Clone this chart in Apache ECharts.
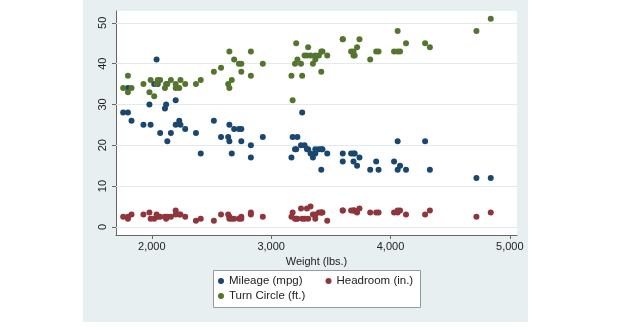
<!DOCTYPE html>
<html><head><meta charset="utf-8">
<script src="https://cdn.jsdelivr.net/npm/echarts@6/dist/echarts.min.js"></script>
<style>html,body{margin:0;padding:0;background:#fff}#c{width:620px;height:330px}</style>
</head><body><div id="c"></div>
<script>
// Weight (lbs.) per car
const weight = [2930,3350,2640,3250,4080,3670,2230,3280,3880,3400,4330,3900,4290,2110,3690,3180,3220,2750,3430,2120,3600,3600,3740,1800,2650,4840,4720,3830,2580,4060,3720,3370,4130,2830,4060,3310,3300,3690,3370,2730,4030,3260,1800,2200,2520,3330,3700,3470,3210,3200,3420,2690,2830,2070,2650,2370,2020,2280,2750,2130,2240,1760,1980,3420,1830,2050,2410,2200,2670,2160,2040,1930,1990,3170];
// Mileage (mpg)
const mpg = [22,17,22,20,15,18,26,20,16,19,14,14,21,29,16,22,22,24,19,30,18,16,17,28,21,12,12,14,22,14,15,18,14,20,21,19,19,18,19,24,16,28,34,25,26,18,18,18,19,19,19,24,17,23,25,23,35,24,21,21,25,28,30,14,26,35,18,31,18,23,41,25,25,17];
// Headroom (in.)
const headroom = [2.5,3.0,3.0,4.5,4.0,4.0,3.0,2.0,3.5,3.5,4.0,3.5,3.0,2.5,4.0,3.5,2.0,2.0,3.5,2.0,4.0,4.0,4.5,2.0,2.0,3.5,2.5,3.5,3.0,3.5,3.5,3.0,3.0,3.5,4.0,2.0,4.5,4.0,2.0,2.0,3.5,2.0,2.5,4.0,1.5,5.0,4.0,1.5,2.0,2.0,3.5,2.0,3.0,2.5,2.5,1.5,2.0,2.5,2.5,2.5,3.0,2.5,3.5,3.5,3.0,2.5,2.0,3.0,2.0,2.5,3.0,3.0,2.0,2.5];
// Turn Circle (ft.)
const turn = [40,40,35,40,43,43,34,42,43,42,44,43,45,34,43,31,41,40,43,35,46,46,46,33,43,51,48,41,39,43,44,41,45,43,48,44,42,42,42,40,43,37,37,34,38,42,42,42,45,40,43,41,37,36,34,35,32,35,38,35,36,34,33,38,34,36,36,35,36,36,35,35,36,37];

const seriesNames = ['Mileage (mpg)', 'Headroom (in.)', 'Turn Circle (ft.)'];
const xTicks = [2000, 3000, 4000, 5000];
const yTicks = [0, 10, 20, 30, 40, 50];

const FONT = '"Liberation Sans", Arial, sans-serif';
const colors = ['#1a476f', '#90353b', '#55752f'];
const pts = v => weight.map((w, i) => [w, v[i]]);
const fmt = v => String(v).replace(/\B(?=(\d{3})+(?!\d))/g, ',');

const chart = echarts.init(document.getElementById('c'), null, {renderer: 'canvas'});
const legendCommon = {
  orient: 'horizontal', padding: 0, itemGap: 23, itemWidth: 6, itemHeight: 6, icon: 'circle',
  textStyle: {fontSize: 11.5, color: '#222', fontFamily: FONT}
};
const scatter = (name, data, color) => ({
  name, type: 'scatter', data, symbol: 'circle', symbolSize: 6, z: 10,
  itemStyle: {color, opacity: 1}
});
chart.setOption({
  backgroundColor: '#fff',
  animation: false,
  color: colors,
  graphic: {elements: [
    {type: 'rect', shape: {x: 83, y: 0, width: 445, height: 322}, style: {fill: '#e8eff1'}, z: -100, silent: true},
    {type: 'rect', shape: {x: 213.5, y: 270.5, width: 207, height: 37}, style: {fill: '#fff', stroke: '#9a9a9a', lineWidth: 1}, z: 1, silent: true}
  ]},
  grid: {left: 116, right: 103, top: 11, bottom: 95, show: true, backgroundColor: '#fff', borderWidth: 0},
  xAxis: {
    type: 'value', min: 1700, max: 5060,
    splitLine: {show: false},
    axisLine: {show: true, onZero: false, lineStyle: {color: '#666', width: 1}},
    axisTick: {show: true, customValues: xTicks, length: 4, lineStyle: {color: '#666'}},
    axisLabel: {customValues: xTicks, formatter: fmt, color: '#222', fontSize: 11, fontFamily: FONT, margin: 6},
    name: 'Weight (lbs.)', nameLocation: 'middle', nameGap: 17,
    nameTextStyle: {color: '#222', fontSize: 11, fontFamily: FONT}
  },
  yAxis: {
    type: 'value', min: -2, max: 52.9,
    splitLine: {show: false},
    axisLine: {show: true, onZero: false, lineStyle: {color: '#666', width: 1}},
    axisTick: {show: true, customValues: yTicks, length: 4, lineStyle: {color: '#666'}},
    axisLabel: {customValues: yTicks, rotate: 90, color: '#222', fontSize: 11, fontFamily: FONT, margin: 8}
  },
  legend: [
    Object.assign({data: [seriesNames[0], seriesNames[1]], left: 218, top: 275}, legendCommon),
    Object.assign({data: [seriesNames[2]], left: 218, top: 290}, legendCommon)
  ],
  series: [
    {
      name: 'gridlines', type: 'scatter', data: [], z: 1, silent: true,
      markLine: {
        z: 1, silent: true, symbol: ['none', 'none'], label: {show: false}, animation: false,
        lineStyle: {color: '#e3eaec', width: 1, type: 'solid'},
        data: yTicks.map(v => ({yAxis: v}))
      }
    },
    scatter(seriesNames[0], pts(mpg), colors[0]),
    scatter(seriesNames[1], pts(headroom), colors[1]),
    scatter(seriesNames[2], pts(turn), colors[2])
  ]
});
</script></body></html>
